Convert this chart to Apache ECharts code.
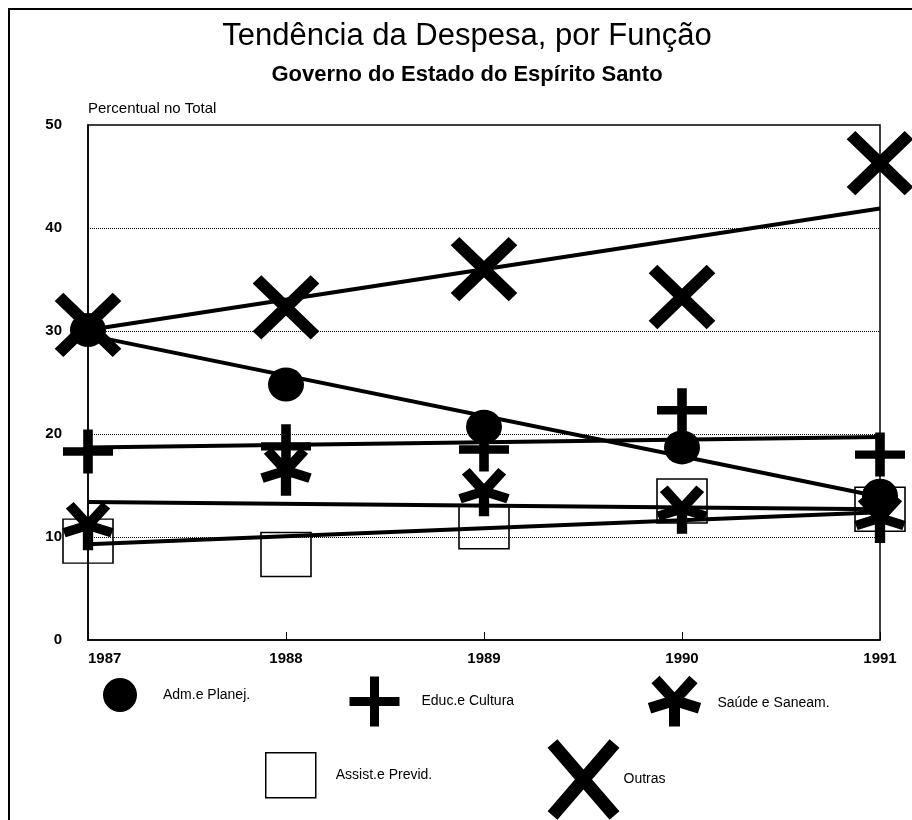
<!DOCTYPE html>
<html>
<head>
<meta charset="utf-8">
<script src="https://cdn.jsdelivr.net/npm/echarts@6/dist/echarts.min.js"></script>
<style>
  html, body { margin: 0; padding: 0; background: #fff; }
  #chart { width: 912px; height: 820px; }
</style>
</head>
<body>
<div id="chart"></div>
<script>
  // values
  const years = [1987, 1988, 1989, 1990, 1991]
  const adm = [30.1, 24.8, 20.7, 18.7, 14.0]
  const educ = [18.3, 18.8, 18.5, 22.3, 18.0]
  const saude = [10.9, 16.2, 14.2, 12.5, 11.6]
  const assist = [9.6, 8.3, 11.0, 13.5, 12.7]
  const outras = [30.6, 32.3, 36.0, 33.3, 46.3]

  // trend lines: value at first and last year
  const trendYears = [1987, 1991]
  const admTrend = [29.6, 13.9]
  const educTrend = [18.7, 19.7]
  const saudeTrend = [13.4, 12.7]
  const assistTrend = [9.3, 12.4]
  const outrasTrend = [30.1, 41.9]

  const yTicks = [0, 10, 20, 30, 40, 50]

  const names = ['Adm.e Planej.', 'Educ.e Cultura', 'Saúde e Saneam.', 'Assist.e Previd.', 'Outras']

  const plusPath = 'path://M0,50L100,50M50,0L50,100'
  const crossPath = 'path://M0,0L100,100M100,0L0,100'
  const starPath = 'path://M50,40L50,90M50,40L100,55M50,40L0,55M50,40L88,0M50,40L12,0'

  const font = 'Liberation Sans, Arial, sans-serif'

  function pts (vals, xs) {
    return vals.map((v, i) => [xs[i], v])
  }

  function trend (name, vals) {
    return {
      name: name + ' (tendência)',
      type: 'line',
      data: pts(vals, trendYears),
      symbol: 'none',
      silent: true,
      z: 2,
      lineStyle: { color: '#000', width: 4 }
    }
  }

  function marker (name, vals, symbol, size, style) {
    return {
      name: name,
      type: 'scatter',
      data: pts(vals, years),
      symbol: symbol,
      symbolSize: size,
      z: 3,
      itemStyle: Object.assign({ opacity: 1 }, style)
    }
  }

  function legendItem (name, icon, left, top, w, h, style, gap) {
    return {
      data: [{ name: name, icon: icon }],
      left: left,
      top: top,
      padding: 0,
      itemWidth: w,
      itemHeight: h,
      symbolKeepAspect: false,
      selectedMode: false,
      itemStyle: Object.assign({ opacity: 1 }, style),
      textStyle: {
        fontFamily: font,
        fontSize: 14,
        color: '#000',
        padding: [0, 0, 0, gap]
      }
    }
  }

  const chart = echarts.init(document.getElementById('chart'))

  const option = {
    backgroundColor: '#fff',
    animation: false,
    title: {
      text: 'Tendência da Despesa, por Função',
      subtext: 'Governo do Estado do Espírito Santo',
      left: 462,
      top: 16,
      textAlign: 'center',
      itemGap: 12,
      textStyle: { fontFamily: font, fontSize: 31, fontWeight: 'normal', color: '#000' },
      subtextStyle: { fontFamily: font, fontSize: 22, fontWeight: 'bold', color: '#000' }
    },
    graphic: [{
      type: 'rect',
      shape: { x: 9, y: 9, width: 950, height: 900 },
      style: { fill: 'none', stroke: '#000', lineWidth: 2 },
      silent: true
    }],
    grid: {
      left: 88,
      right: 32,
      top: 125,
      bottom: 180,
      show: true,
      borderColor: '#000',
      borderWidth: 1.5
    },
    xAxis: {
      type: 'value',
      min: years[0],
      max: years[years.length - 1],
      interval: 1,
      axisLine: { lineStyle: { color: '#000', width: 1.5 } },
      axisTick: { inside: true, length: 8, lineStyle: { color: '#000' } },
      splitLine: { show: false },
      axisLabel: {
        margin: 11,
        color: '#000',
        fontFamily: font,
        fontSize: 15,
        fontWeight: 'bold',
        alignMinLabel: 'left',
        formatter: (v) => String(v)
      }
    },
    yAxis: {
      type: 'value',
      min: yTicks[0],
      max: yTicks[yTicks.length - 1],
      interval: 10,
      name: 'Percentual no Total',
      nameLocation: 'end',
      nameGap: 9,
      nameTextStyle: { fontFamily: font, fontSize: 15, color: '#000', align: 'left' },
      axisLine: { show: true, lineStyle: { color: '#000', width: 1.5 } },
      axisTick: { show: false },
      splitLine: {
        show: true,
        showMinLine: false,
        showMaxLine: false,
        lineStyle: { color: '#000', type: 'dotted', width: 1 }
      },
      axisLabel: {
        margin: 26,
        color: '#000',
        fontFamily: font,
        fontSize: 15,
        fontWeight: 'bold'
      }
    },
    legend: [
      legendItem(names[0], 'circle', 103, 678, 34, 38, { color: '#000', borderWidth: 0 }, 21),
      legendItem(names[1], plusPath, 345, 672, 50, 50, { color: '#000', borderColor: '#000', borderWidth: 9 }, 17),
      legendItem(names[2], starPath, 644, 674, 50, 47, { color: '#000', borderColor: '#000', borderWidth: 11 }, 13),
      legendItem(names[3], 'rect', 265, 752, 50, 45, { color: '#fff', borderColor: '#000', borderWidth: 1.5 }, 15),
      legendItem(names[4], crossPath, 546, 737, 62, 72, { color: '#000', borderColor: '#000', borderWidth: 13 }, 4)
    ],
    series: [
      trend(names[0], admTrend),
      trend(names[1], educTrend),
      trend(names[2], saudeTrend),
      trend(names[3], assistTrend),
      trend(names[4], outrasTrend),
      marker(names[3], assist, 'rect', [50, 44], { color: 'rgba(0,0,0,0)', borderColor: '#000', borderWidth: 1.5 }),
      marker(names[0], adm, 'circle', [36, 34], { color: '#000' }),
      marker(names[1], educ, plusPath, [50, 44], { color: '#000', borderColor: '#000', borderWidth: 9 }),
      marker(names[2], saude, starPath, [48, 45], { color: '#000', borderColor: '#000', borderWidth: 10 }),
      marker(names[4], outras, crossPath, [58, 56], { color: '#000', borderColor: '#000', borderWidth: 12 })
    ]
  }

  chart.setOption(option)
</script>
</body>
</html>
